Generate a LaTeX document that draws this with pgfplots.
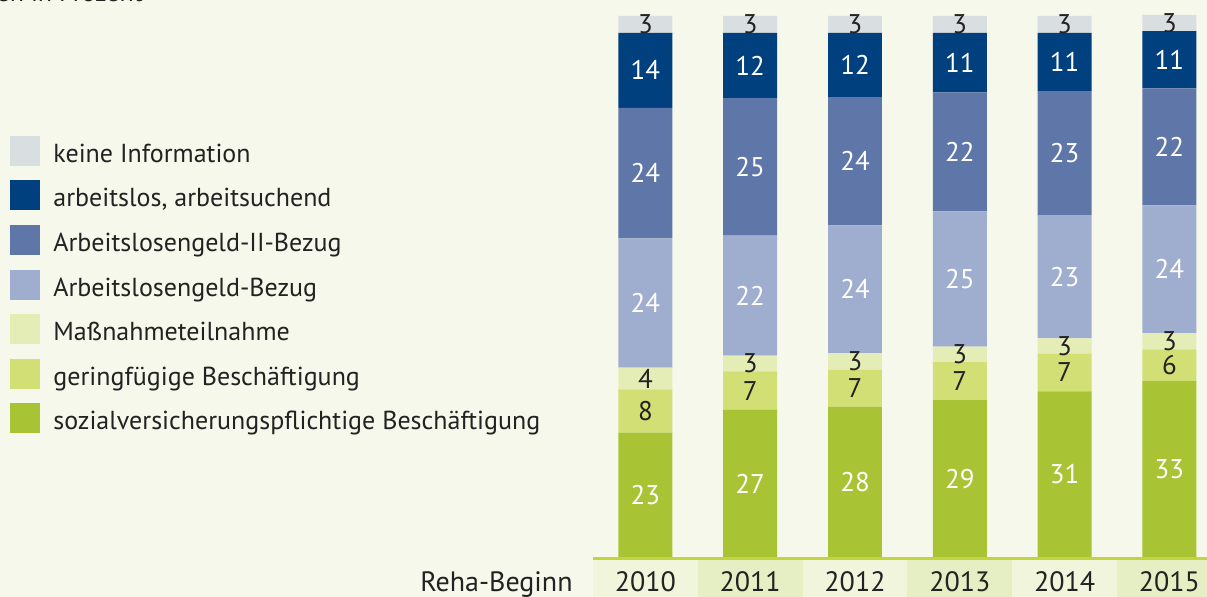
\documentclass[border=0pt]{standalone}
\usepackage{pgfplots}
\usepackage{pgfplotstable}
\pgfplotsset{compat=1.18}
\usepackage{fontspec}
\setmainfont{PT Sans}
\definecolor{bg}{HTML}{F6F8EB}
\definecolor{cgrey}{HTML}{D9DEE1}
\definecolor{carb}{HTML}{00407F}
\definecolor{calgii}{HTML}{5F76A9}
\definecolor{calg}{HTML}{9FADCF}
\definecolor{cmass}{HTML}{E4EDB6}
\definecolor{cger}{HTML}{D1DF74}
\definecolor{cgreen}{HTML}{A8C334}
\definecolor{cline}{HTML}{C2D63C}
\definecolor{boxA}{HTML}{F0F5DB}
\definecolor{boxB}{HTML}{E6EFC4}
\definecolor{txt}{HTML}{222222}
\pgfplotstableread{
x green ger mass alg algii arb grey
0 23.0 8.0 4.0 23.9 24.1 13.9 3.1
1 27.2 7.1 2.9 22.2 25.4 12.1 3.1
2 27.8 6.8 3.1 23.6 23.7 11.9 3.1
3 29.0 7.0 2.9 25.0 22.0 11.0 3.1
4 30.6 7.0 2.8 22.8 22.8 10.9 3.1
5 32.5 5.9 3.0 23.6 21.6 10.6 3.0
}\data
\begin{document}
\begin{tikzpicture}
\begin{scope}[x=0.5bp,y=0.5bp]
\fill[bg] (0,0) rectangle (1207,597);
% year boxes
\fill[boxA] (593,0) rectangle (698,37);
\fill[boxB] (698,0) rectangle (803,37);
\fill[boxA] (803,0) rectangle (907,37);
\fill[boxB] (907,0) rectangle (1012,37);
\fill[boxA] (1012,0) rectangle (1117,37);
\fill[boxB] (1117,0) rectangle (1222,37);
\end{scope}
\begin{axis}[
  at={(296.5bp,20bp)}, anchor=south west,
  scale only axis, width=314.4bp, height=270.5bp,
  xmin=-0.5, xmax=5.5, ymin=0, ymax=100,
  clip=false,
  axis line style={draw=none},
  major tick length=0pt,
  ytick=\empty,
  xtick={0,...,5},
  xticklabels={2010,2011,2012,2013,2014,2015},
  x tick label style={anchor=base, yshift=-17bp, font=\fontsize{14bp}{16bp}\selectfont, text=txt},
  ybar stacked,
  bar width=0.515,
  point meta=explicit,
  nodes near coords,
  nodes near coords style={anchor=center, font=\fontsize{13.5bp}{15bp}\selectfont,
     /pgf/number format/fixed, /pgf/number format/precision=0, /pgf/number format/assume math mode=true},
]
\addplot[fill=cgreen, draw=none, nodes near coords style={text=white}] table[x=x,y=green,meta=green]{\data};
\addplot[fill=cger, draw=none, nodes near coords style={text=txt}] table[x=x,y=ger,meta=ger]{\data};
\addplot[fill=cmass, draw=none, nodes near coords style={text=txt}] table[x=x,y=mass,meta=mass]{\data};
\addplot[fill=calg, draw=none, nodes near coords style={text=white}] table[x=x,y=alg,meta=alg]{\data};
\addplot[fill=calgii, draw=none, nodes near coords style={text=white}] table[x=x,y=algii,meta=algii]{\data};
\addplot[fill=carb, draw=none, nodes near coords style={text=white}] table[x=x,y=arb,meta=arb]{\data};
\addplot[fill=cgrey, draw=none, nodes near coords style={text=txt}] table[x=x,y=grey,meta=grey]{\data};
\end{axis}
\begin{scope}[x=0.5bp,y=0.5bp]
\fill[cline] (593,37) rectangle (1222,40);
\node[anchor=base east, text=txt, inner sep=0pt, font=\fontsize{14bp}{16bp}\selectfont] at (573,6) {Reha-Beginn};
\node[anchor=base east, text=txt, inner sep=0pt, font=\fontsize{13bp}{15bp}\selectfont] at (143,596) {Angaben in Prozent};
% legend
\foreach \c/\col/\lab in {151/cgrey/keine Information, 195/carb/{arbeitslos, arbeitsuchend}, 240/calgii/Arbeitslosengeld-II-Bezug, 285/calg/Arbeitslosengeld-Bezug, 329/cmass/Maßnahmeteilnahme, 374/cger/geringfügige Beschäftigung, 418/cgreen/sozialversicherungspflichtige Beschäftigung}{
  \fill[\col] (10,{597-\c-15}) rectangle (40,{597-\c+15});
  \node[anchor=base west, inner sep=0pt, text=txt, font=\fontsize{13bp}{15bp}\selectfont] at (53,{597-\c-11}) {\lab};
}
\end{scope}
\pgfresetboundingbox
\useasboundingbox (0,0) rectangle (603.5bp,298.5bp);
\end{tikzpicture}
\end{document}
